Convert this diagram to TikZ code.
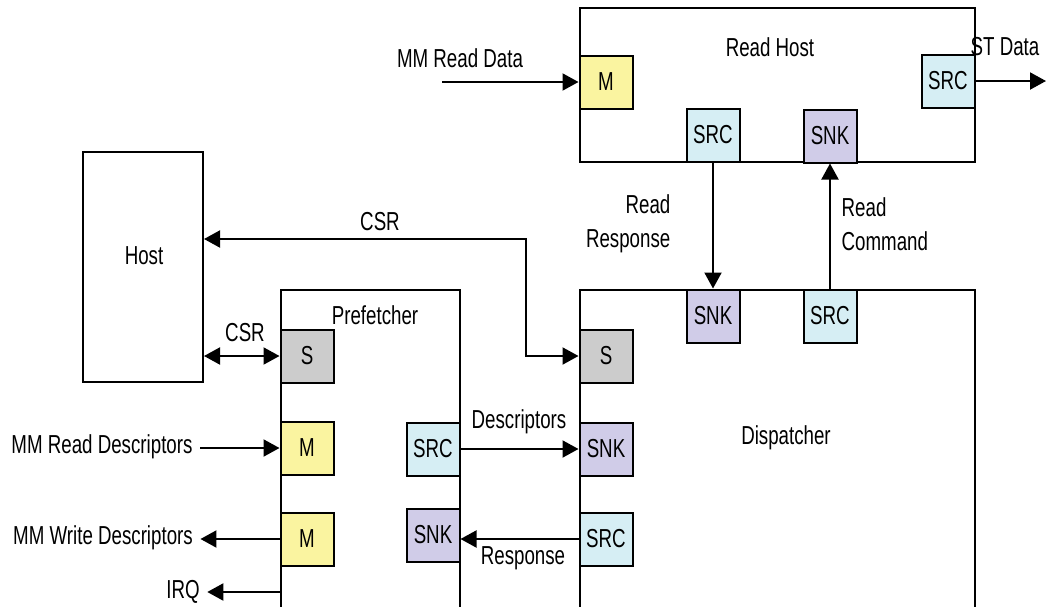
\documentclass[tikz,border=0pt]{standalone}
\usepackage{fontspec}
\setmainfont{Liberation Sans}[FakeStretch=0.72]
\usetikzlibrary{arrows.meta}

\definecolor{mfill}{RGB}{250,244,160}
\definecolor{srcfill}{RGB}{214,238,244}
\definecolor{snkfill}{RGB}{208,204,232}
\definecolor{sfill}{RGB}{204,204,204}

\begin{document}
\begin{tikzpicture}[x=0.5pt, y=-0.5pt, line width=1pt,
    font=\fontsize{13}{17}\selectfont,
    block/.style={draw, rectangle, inner sep=0pt},
    port/.style={draw, rectangle, minimum width=26.5pt, minimum height=26.5pt, inner sep=0pt},
    mport/.style={port, fill=mfill},
    srcport/.style={port, fill=srcfill},
    snkport/.style={port, fill=snkfill},
    sport/.style={port, fill=sfill},
    link/.style={-{Triangle[length=8pt,width=8.5pt]}},
    dlink/.style={{Triangle[length=8pt,width=8.5pt]}-{Triangle[length=8pt,width=8.5pt]}}]
    \useasboundingbox (0,0) rectangle (1050,606);

    % Read Host
    \node[block, minimum width=197.5pt, minimum height=77pt] (rh) at (777.5,85) {};
    \node (rhtitle) at (770,47) {Read Host};
    \node[mport] (rhm) at (606,82) {M};
    \node[srcport] (rhsrc) at (948,81) {SRC};
    \node[srcport] (rhsrcb) at (713,135) {SRC};
    \node[snkport] (rhsnk) at (830,136) {SNK};
    \node (mmrd) at (460,58) {MM Read Data};
    \node (stdata) at (1005,47) {ST Data};
    \coordinate (mmrdin) at (442,82);
    \coordinate (stout) at (1046,81);

    % Host
    \node[block, minimum width=60pt, minimum height=115pt] (host) at (143,267) {};
    \node (hosttitle) at (144,256) {Host};

    % Prefetcher
    \node[block, minimum width=89.5pt, minimum height=170pt] (pf) at (370.5,460) {};
    \node (pftitle) at (375,315) {Prefetcher};
    \node[sport] (pfs) at (307,356) {S};
    \node[mport] (pfm1) at (307,448) {M};
    \node[mport] (pfm2) at (307,539) {M};
    \node[srcport] (pfsrc) at (433,449) {SRC};
    \node[snkport] (pfsnk) at (433,535) {SNK};

    % Dispatcher
    \node[block, minimum width=197.5pt, minimum height=170pt] (dp) at (777.5,460) {};
    \node (dptitle) at (786,438) {Dispatcher};
    \node[sport] (dps) at (606,356) {S};
    \node[snkport] (dpsnkl) at (606,449) {SNK};
    \node[srcport] (dpsrcl) at (606,539) {SRC};
    \node[snkport] (dpsnk) at (713,316) {SNK};
    \node[srcport] (dpsrc) at (830,316) {SRC};

    % external labels
    \node (mmrdesc) at (102,447) {MM Read Descriptors};
    \node (mmwdesc) at (103,538) {MM Write Descriptors};
    \node (irq) at (183,592) {IRQ};

    % connections
    \draw[link] (mmrdin) -- (rhm.west);
    \draw[link] (rhsrc.east) -- (stout);
    \draw[link] (rhsrcb.south) -- (dpsnk.north);
    \draw[link] (dpsrc.north) -- (rhsnk.south);
    \draw[dlink] (dps.west) -- ++(-53,0) |- (host.east |- 0,239);
    \draw[dlink] (host.east |- pfs.west) -- (pfs.west);
    \draw[link] (mmrdesc.east |- pfm1.west) -- (pfm1.west);
    \draw[link] (pfm2.west) -- (mmwdesc.east |- pfm2.west);
    \draw[link] (pf.west |- irq.east) -- (irq.east);
    \draw[link] (pfsrc.east) -- (dpsnkl.west |- pfsrc.east);
    \draw[link] (dpsrcl.west) -- (pfsnk.east |- dpsrcl.west);

    % connector labels
    \node (csrtop) at (380,222) {CSR};
    \node (csrpf) at (245,333) {CSR};
    \node[align=right, anchor=east] (rresp) at (678,224) {Read\\Response};
    \node[align=left, anchor=west] (rcmd) at (834,224) {Read\\Command};
    \node (desc) at (519,422) {Descriptors};
    \node (resp) at (523,558) {Response};
\end{tikzpicture}
\end{document}
